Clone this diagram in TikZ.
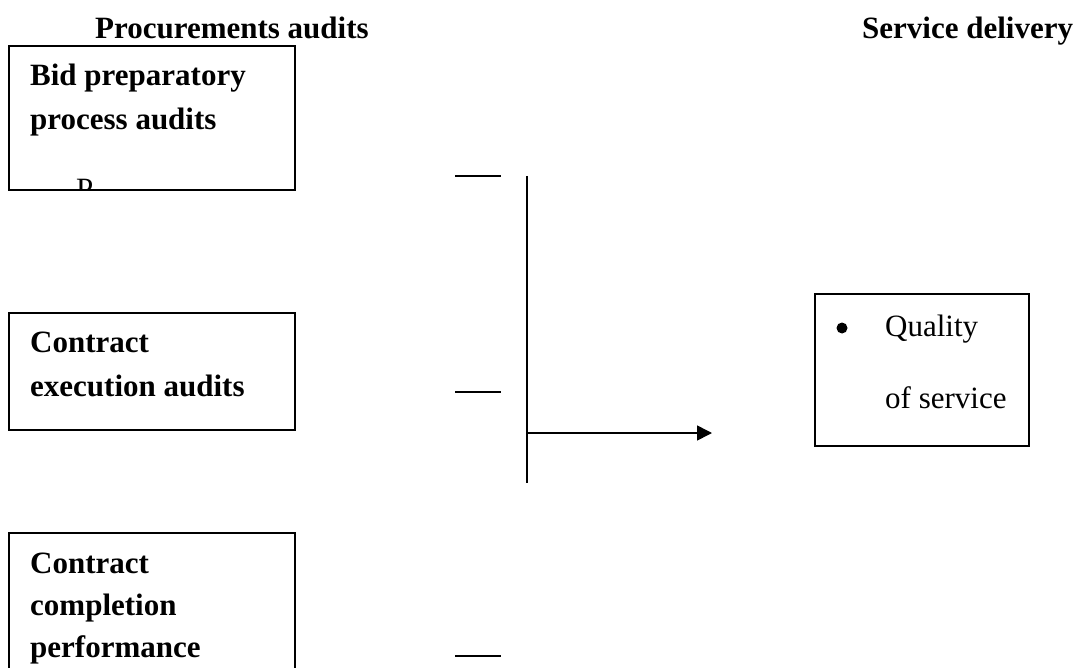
\documentclass[tikz,border=0pt]{standalone}
\usepackage{fontspec}
\setmainfont{Liberation Serif}
\usetikzlibrary{arrows.meta,positioning}

\tikzset{
  auditbox/.style={draw, line width=1.6pt, inner sep=0pt},
  boxtext/.style={anchor=base west, inner sep=0pt, align=left,
    font=\bfseries\fontsize{31}{44}\selectfont},
  headtext/.style={anchor=base west, inner sep=0pt,
    font=\bfseries\fontsize{31}{38}\selectfont},
  link/.style={line width=1.6pt}
}

\begin{document}
\begin{tikzpicture}[x=1pt,y=-1pt]
  \useasboundingbox (0,0) rectangle (1073,668);
  \clip (0,0) rectangle (1073,668);

  % headings
  \node (hproc) [headtext] at (95,39) {Procurements audits};
  \node (hserv) [headtext] at (862,39) {Service delivery};

  % audit boxes
  \begin{scope}[every node/.style={auditbox, minimum width=286pt}]
    \node (bid) [minimum height=144pt] at (152,118) {};
    \node (exe) [minimum height=117pt] at (152,371.5) {};
    \node (com) [minimum height=160pt] at (152,613) {};
    \node (qos) [minimum width=214pt, minimum height=152pt] at (922,370) {};
  \end{scope}

  % texts (anchored at the last line)
  \node (tbid) [boxtext] at (30,130) {Bid preparatory\\process audits};
  \begin{scope}
    \clip (bid.north west) rectangle (bid.south east);
    \node (pcut) [anchor=base west, inner sep=0pt,
      font=\fontsize{31}{38}\selectfont] at (76,200) {P};
  \end{scope}
  \node (texe) [boxtext] at (30,396) {Contract\\execution audits};
  \node (tcom) [boxtext, font=\bfseries\fontsize{31}{42}\selectfont]
    at (30,657) {Contract\\completion\\performance};

  \node (bullet) [circle, fill, inner sep=0pt, minimum size=11pt] at (842,328) {};
  \node (tqos) [anchor=base west, inner sep=0pt, align=left,
    font=\fontsize{31}{72}\selectfont] at (885,408) {Quality\\of service};

  % connectors
  \coordinate (d1a) at (455,176);
  \coordinate (d1b) at (501,176);
  \coordinate (d2a) at (455,392);
  \coordinate (d2b) at (501,392);
  \coordinate (d3a) at (455,656);
  \coordinate (d3b) at (501,656);
  \coordinate (vtop) at (527,176);
  \coordinate (vbot) at (527,483);
  \coordinate (vmid) at (527,433);
  \coordinate (tip) at (712,433);

  \begin{scope}[every path/.style={link}]
    \path (d1a) edge (d1b);
    \path (d2a) edge (d2b);
    \path (d3a) edge (d3b);
    \path (vtop) edge (vbot);
    \draw [-{Triangle[length=15pt,width=15pt]}] (vmid) -- (tip);
  \end{scope}
\end{tikzpicture}
\end{document}
